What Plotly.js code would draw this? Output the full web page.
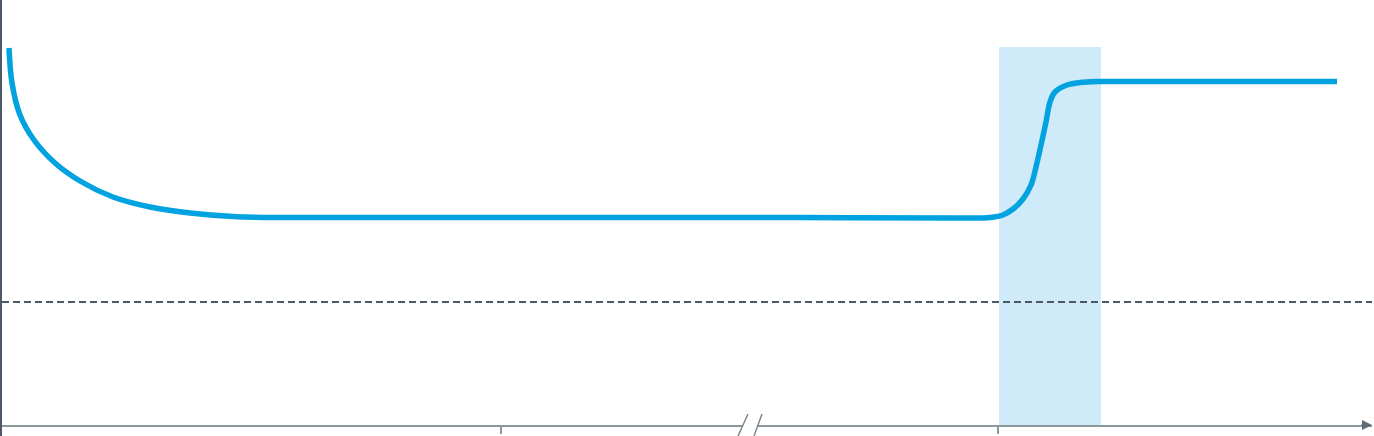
<!DOCTYPE html>
<html>
<head>
<meta charset="utf-8">
<script src="https://cdn.plot.ly/plotly-3.0.1.min.js"></script>
<style>
  html, body { margin: 0; padding: 0; background: #fff; }
  #chart { width: 1374px; height: 436px; }
</style>
</head>
<body>
<div id="chart"></div>
<script>
  // curve (x = time units, y = level above the axis)
  const curveX = [9, 12, 20, 34, 55, 80, 113, 150, 190, 233, 280, 400, 600, 800, 960,
                  990, 1003, 1013, 1023, 1031, 1036, 1041, 1046, 1050, 1055, 1067, 1080, 1100, 1140, 1250, 1337];
  const curveY = [377, 342, 310, 285, 262, 244, 228, 218, 212, 208.5, 207.5, 207.5, 207.5, 207.5, 207,
                  207.5, 210, 216, 226, 240, 258, 280, 303, 323, 333, 340, 342.5, 343.5, 343.5, 343.5, 343.5];

  const thresholdY = 123;          // dashed reference level
  const bandStart = 999, bandEnd = 1101, bandTop = 378;
  const tickX = [501, 998];
  const breakX = 750;              // axis break "//"

  const axisGray = "#8c979b";
  const slate = "#4d5966";

  const trace = {
    x: curveX,
    y: curveY,
    type: "scatter",
    mode: "lines",
    line: { color: "#00a3e0", width: 5.5, shape: "spline", smoothing: 1 },
    hoverinfo: "skip",
  };

  const shapes = [
    // highlighted window
    { type: "rect", layer: "below", xref: "x", yref: "y",
      x0: bandStart, x1: bandEnd, y0: 0, y1: bandTop,
      fillcolor: "#cfeaf8", line: { width: 0 } },
    // dashed threshold
    { type: "line", layer: "above", xref: "paper", yref: "y",
      x0: 0, x1: 1, y0: thresholdY, y1: thresholdY,
      line: { color: "#4a5868", width: 2, dash: "7px,4px" } },
    // left axis continues a little below the x axis
    { type: "line", layer: "above", xref: "paper", yref: "paper",
      xsizemode: "pixel", xanchor: 0, x0: -1, x1: -1,
      ysizemode: "pixel", yanchor: 0, y0: 0, y1: -12,
      line: { color: slate, width: 2 } },
    // gap in the axis for the break
    { type: "rect", layer: "above", xref: "x", yref: "paper",
      xsizemode: "pixel", xanchor: breakX, x0: -7, x1: 7,
      ysizemode: "pixel", yanchor: 0, y0: -4, y1: 4,
      fillcolor: "#fff", line: { width: 0 } },
    // the two slashes
    { type: "line", layer: "above", xref: "x", yref: "paper",
      xsizemode: "pixel", xanchor: breakX, x0: -12, x1: -2,
      ysizemode: "pixel", yanchor: 0, y0: -11, y1: 11,
      line: { color: "#7d888e", width: 1.5 } },
    { type: "line", layer: "above", xref: "x", yref: "paper",
      xsizemode: "pixel", xanchor: breakX, x0: 4, x1: 12,
      ysizemode: "pixel", yanchor: 0, y0: -11, y1: 11,
      line: { color: "#7d888e", width: 1.5 } },
  ];

  const layout = {
    width: 1374,
    height: 436,
    margin: { l: 2, r: 2, t: 0, b: 11, pad: 0 },
    paper_bgcolor: "#fff",
    plot_bgcolor: "rgba(0,0,0,0)",
    showlegend: false,
    xaxis: {
      range: [2, 1372],
      showgrid: false,
      zeroline: false,
      showline: true,
      linecolor: axisGray,
      linewidth: 2,
      ticks: "outside",
      tickvals: tickX,
      ticklen: 7,
      tickwidth: 2,
      tickcolor: axisGray,
      showticklabels: false,
      fixedrange: true,
    },
    yaxis: {
      range: [0, 425],
      showgrid: false,
      zeroline: false,
      showline: true,
      linecolor: slate,
      linewidth: 2.5,
      ticks: "",
      showticklabels: false,
      fixedrange: true,
    },
    shapes: shapes,
    annotations: [
      { xref: "paper", yref: "paper", x: 1, y: 0, ax: -12, ay: 0,
        text: "", showarrow: true, arrowhead: 2, arrowsize: 1,
        arrowwidth: 2, arrowcolor: "#5f6b75" },
    ],
  };

  Plotly.newPlot("chart", [trace], layout, { staticPlot: true, displayModeBar: false });
</script>
</body>
</html>
